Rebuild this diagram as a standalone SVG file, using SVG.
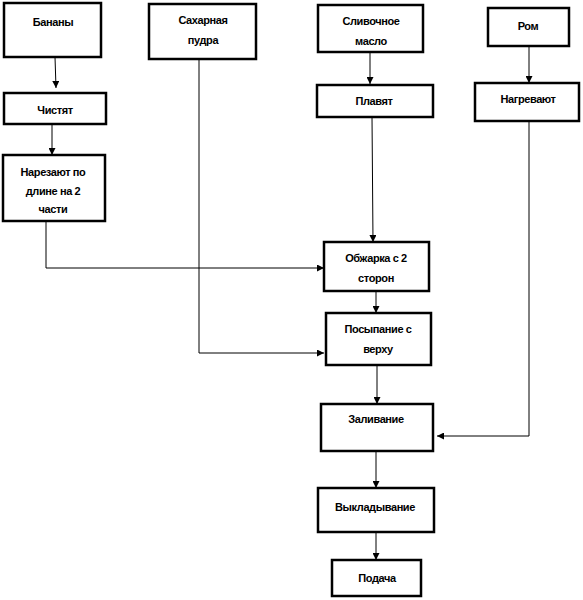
<svg xmlns="http://www.w3.org/2000/svg" width="583" height="600" viewBox="0 0 583 600">
<style>
.box{fill:#fff;stroke:#000;stroke-width:2.5}
.t{font-family:"Liberation Sans",Arial,sans-serif;font-size:11px;font-weight:bold;text-anchor:middle;fill:#000;letter-spacing:-0.4px}
.c{fill:none;stroke:#000;stroke-width:1}
</style>
<defs>
<marker id="ah" viewBox="0 0 10 10" refX="10" refY="5" markerWidth="7" markerHeight="7" markerUnits="userSpaceOnUse" orient="auto">
<path d="M0,0 L10,5 L0,10 z" fill="#000"/>
</marker>
</defs>
<rect width="583" height="600" fill="#fff"/>
<g id="connectors">
<path class="c" d="M55,57 L56,88" marker-end="url(#ah)"/>
<path class="c" d="M52,124 L52,155" marker-end="url(#ah)"/>
<path class="c" d="M46,221 L46,268 L324,268" marker-end="url(#ah)"/>
<path class="c" d="M199,59 L199,353 L324,353" marker-end="url(#ah)"/>
<path class="c" d="M370,52 L370,84" marker-end="url(#ah)"/>
<path class="c" d="M372,117 L373,242" marker-end="url(#ah)"/>
<path class="c" d="M529,46 L529,83" marker-end="url(#ah)"/>
<path class="c" d="M529,121 L529,436 L437,436" marker-end="url(#ah)"/>
<path class="c" d="M376,291 L376,313" marker-end="url(#ah)"/>
<path class="c" d="M377,365 L377,404" marker-end="url(#ah)"/>
<path class="c" d="M376,451 L376,488" marker-end="url(#ah)"/>
<path class="c" d="M376,532 L376,560" marker-end="url(#ah)"/>
</g>
<g id="bananas"><rect class="box" x="4" y="3" width="97" height="54"/><text class="t" x="53" y="26">Бананы</text></g>
<g id="sugar"><rect class="box" x="149" y="4" width="107" height="55"/><text class="t" x="203" y="24">Сахарная</text><text class="t" x="203" y="44">пудра</text></g>
<g id="butter"><rect class="box" x="318" y="5" width="105" height="47"/><text class="t" x="371" y="25">Сливочное</text><text class="t" x="371" y="45">масло</text></g>
<g id="rum"><rect class="box" x="488" y="8" width="81" height="38"/><text class="t" x="528" y="30">Ром</text></g>
<g id="peel"><rect class="box" x="4" y="93" width="102" height="31"/><text class="t" x="55" y="114">Чистят</text></g>
<g id="cut"><rect class="box" x="3" y="155" width="102" height="66"/><text class="t" x="53" y="176">Нарезают по</text><text class="t" x="53" y="195">длине на 2</text><text class="t" x="53" y="213">части</text></g>
<g id="melt"><rect class="box" x="317" y="85" width="116" height="32"/><text class="t" x="374" y="105">Плавят</text></g>
<g id="heat"><rect class="box" x="475" y="83" width="104" height="38"/><text class="t" x="528" y="103">Нагревают</text></g>
<g id="fry"><rect class="box" x="324" y="242" width="105" height="49"/><text class="t" x="376" y="262">Обжарка с 2</text><text class="t" x="376" y="282">сторон</text></g>
<g id="sprinkle"><rect class="box" x="326" y="313" width="105" height="52"/><text class="t" x="378" y="333">Посыпание с</text><text class="t" x="378" y="353">верху</text></g>
<g id="pour"><rect class="box" x="321" y="404" width="112" height="47"/><text class="t" x="376" y="423">Заливание</text></g>
<g id="lay"><rect class="box" x="318" y="488" width="116" height="44"/><text class="t" x="375" y="511">Выкладывание</text></g>
<g id="serve"><rect class="box" x="332" y="560" width="89" height="36"/><text class="t" x="377" y="582">Подача</text></g>
</svg>
